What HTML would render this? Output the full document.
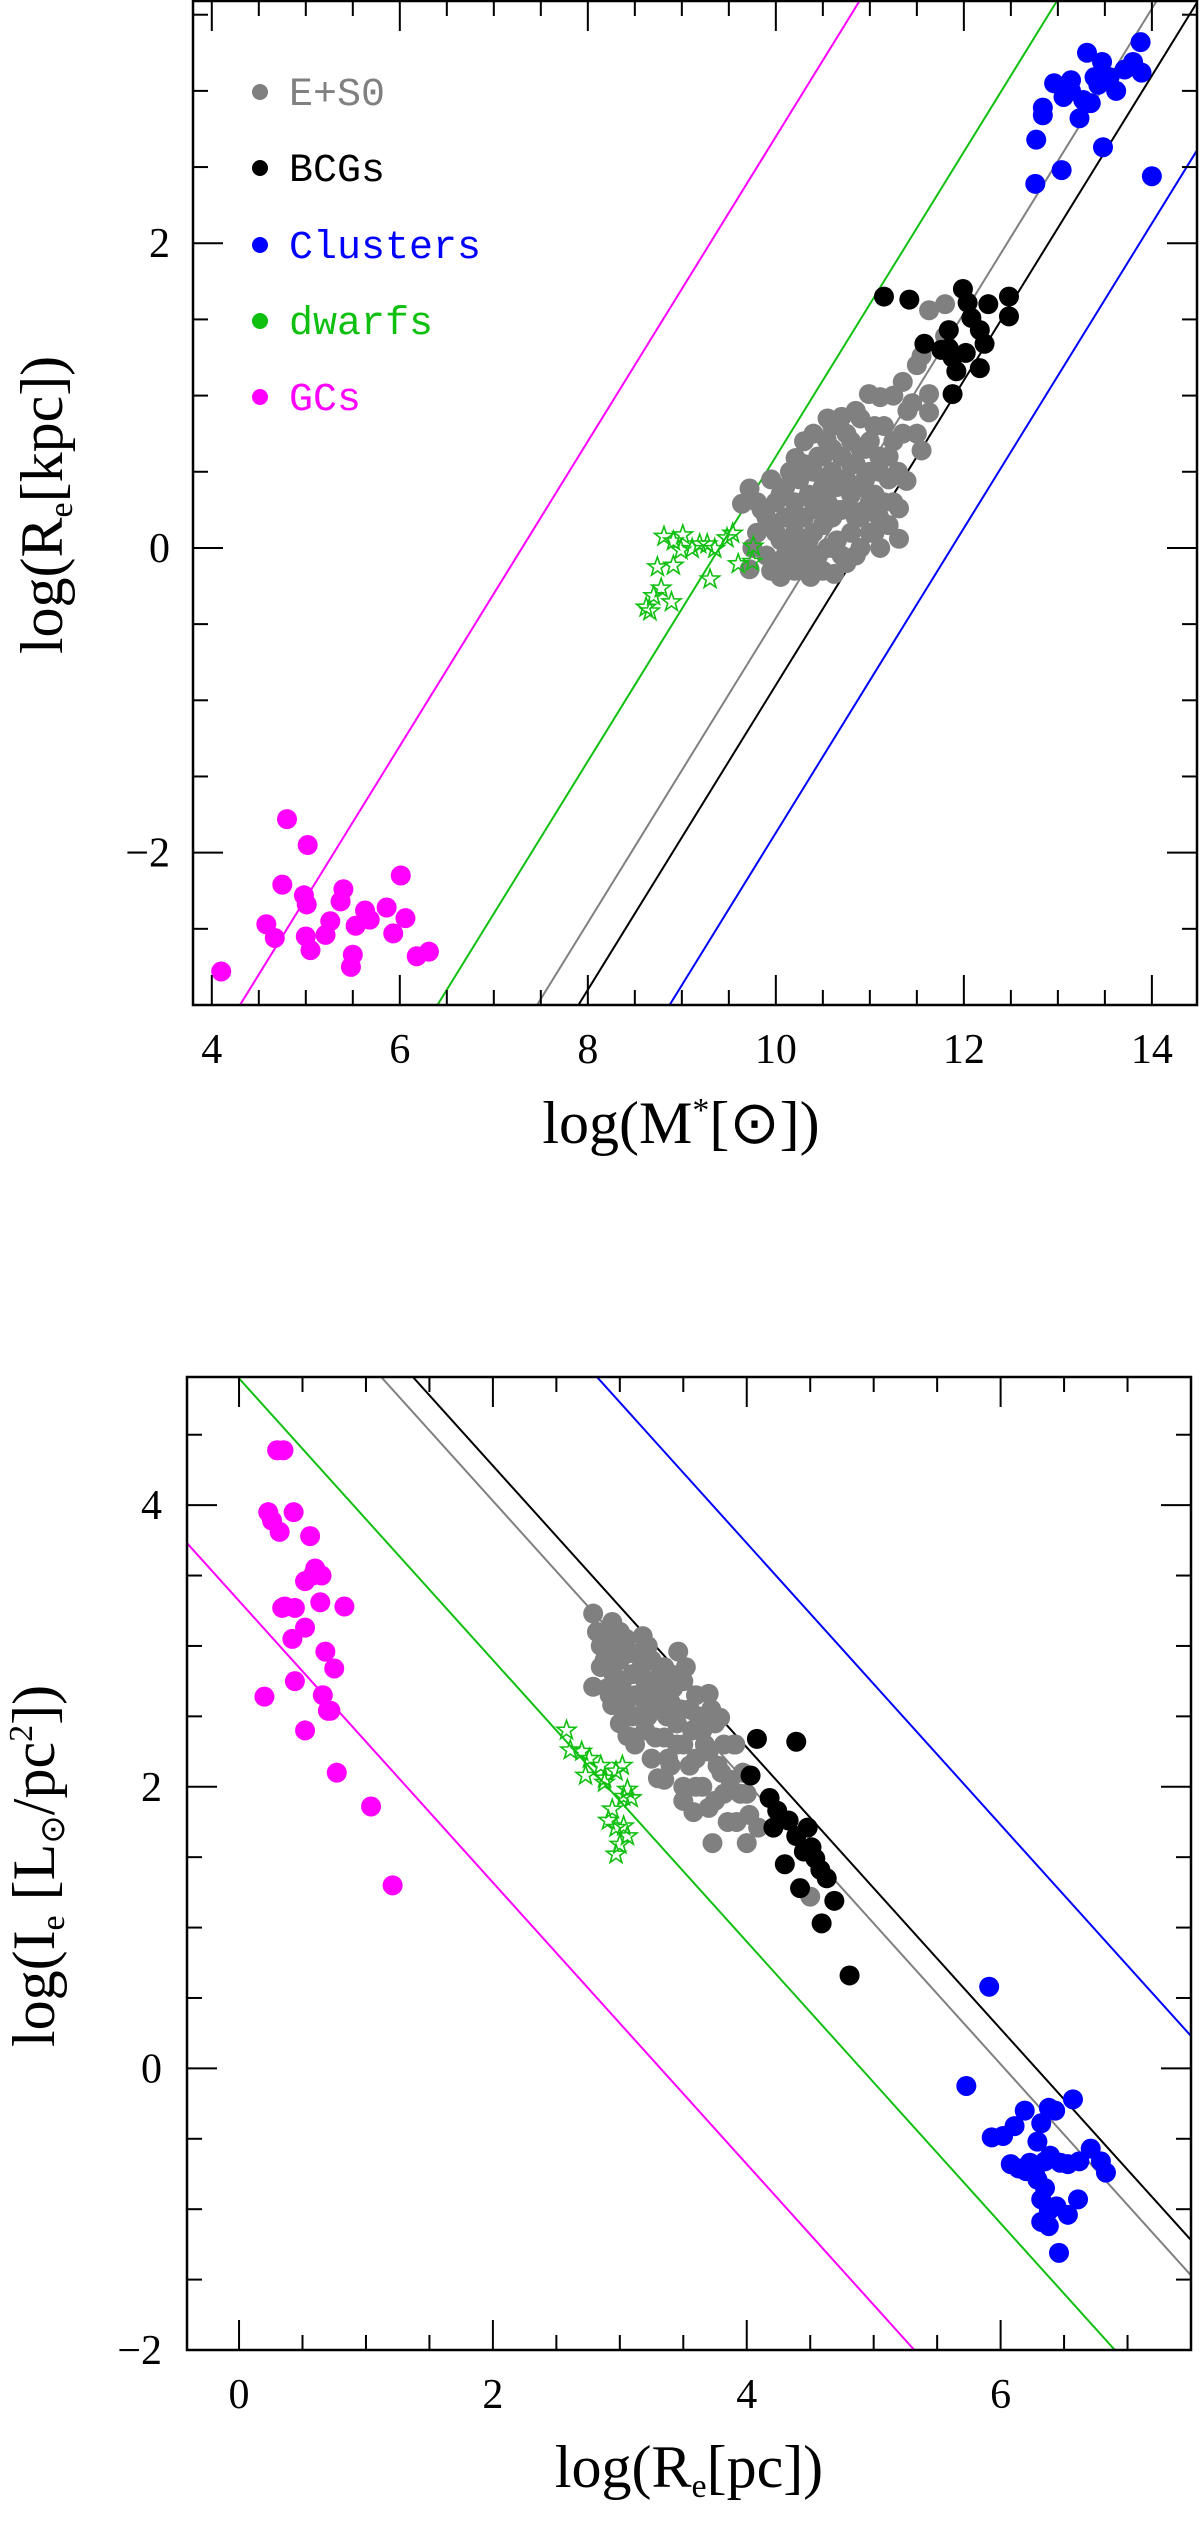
<!DOCTYPE html>
<html><head><meta charset="utf-8"><style>
html,body{margin:0;padding:0;background:#fff;width:1200px;height:2538px;overflow:hidden;}
svg{display:block;font-family:"Liberation Serif",serif;}
</style></head><body>
<svg id="fig" width="1200" height="2538" viewBox="0 0 1200 2538" xmlns="http://www.w3.org/2000/svg">
  <g font-family="Liberation Mono, monospace" font-size="40">
    <g><circle cx="260" cy="92" r="8" fill="#808080"/><text x="289" y="105" fill="#808080">E+S0</text></g>
    <g><circle cx="260" cy="168" r="8" fill="#000"/><text x="289" y="181" fill="#000">BCGs</text></g>
    <g><circle cx="260" cy="245" r="8" fill="#0000ff"/><text x="289" y="258" fill="#0000ff">Clusters</text></g>
    <g><circle cx="260" cy="321" r="8" fill="#10c010"/><text x="289" y="334" fill="#10c010">dwarfs</text></g>
    <g><circle cx="260" cy="397" r="8" fill="#ff00ff"/><text x="289" y="410" fill="#ff00ff">GCs</text></g>
  </g>
  <text x="681" y="1143" text-anchor="middle" font-size="60">log(M<tspan font-size="34" dy="-22">*</tspan><tspan dy="22">[&#x2299;])</tspan></text>
  <text transform="translate(62,505) rotate(-90)" text-anchor="middle" font-size="60">log(R<tspan font-size="34" dy="10">e</tspan><tspan dy="-10">[kpc])</tspan></text>
  <text x="689" y="2487" text-anchor="middle" font-size="60">log(R<tspan font-size="34" dy="10">e</tspan><tspan dy="-10">[pc])</tspan></text>
  <text transform="translate(54,1866) rotate(-90)" text-anchor="middle" font-size="60">log(I<tspan font-size="34" dy="10">e</tspan><tspan dy="-10"> [L</tspan><tspan font-size="34" dy="10">&#x2299;</tspan><tspan dy="-10">/pc</tspan><tspan font-size="34" dy="-22">2</tspan><tspan dy="22">])</tspan></text>
</svg>
<script>
// ---------- Top panel data: log(M*) vs log(Re[kpc]) ----------
const topGray = [[9.72,0.39],[9.64,0.29],[9.72,-0.14],[9.8,0.1],[9.85,0.25],[9.9,-0.05],[9.95,0.15],[10.0,0.3],[10.05,-0.19],[10.05,0.05],[10.1,0.2],[10.1,0.4],[10.15,-0.1],[10.2,0.1],[10.2,0.3],[10.21,0.59],[10.25,0.45],[10.3,-0.15],[10.3,0.0],[10.3,0.2],[10.35,0.35],[10.37,-0.19],[10.4,0.1],[10.4,0.5],[10.45,0.25],[10.45,-0.05],[10.5,0.4],[10.5,0.15],[10.5,0.6],[10.54,0.71],[10.55,0.0],[10.55,0.3],[10.6,0.5],[10.6,0.2],[10.62,-0.17],[10.65,0.4],[10.65,0.05],[10.7,0.86],[10.7,0.6],[10.7,0.25],[10.75,0.45],[10.75,-0.1],[10.8,0.1],[10.8,0.35],[10.8,0.7],[10.85,0.55],[10.85,0.2],[10.9,0.4],[10.9,0.0],[10.95,0.65],[10.95,0.25],[10.99,1.01],[11.0,0.5],[11.0,0.1],[11.05,0.35],[11.05,0.8],[11.11,0.0],[11.11,0.99],[11.1,0.6],[11.15,0.3],[11.2,0.45],[11.2,0.15],[11.25,0.7],[11.31,0.06],[11.31,0.26],[11.35,1.09],[11.39,0.44],[11.4,0.9],[11.55,0.64],[11.63,0.89],[11.63,1.01],[11.55,1.26],[11.63,1.56],[11.80,1.60],[11.80,1.39],[11.5,1.2],[10.0,-0.1],[10.3,0.7],[10.6,0.8],[10.9,0.85],
[9.75,0.0],[9.8,0.3],[9.9,0.2],[9.95,-0.15],[10.0,0.1],[10.05,0.35],[10.1,-0.05],[10.15,0.5],[10.2,-0.15],[10.25,0.2],[10.3,0.55],[10.35,0.05],[10.4,0.3],[10.4,-0.1],[10.45,0.6],[10.5,-0.15],[10.55,0.45],[10.55,0.85],[10.6,0.0],[10.6,0.65],[10.65,0.25],[10.7,-0.05],[10.7,0.45],[10.75,0.75],[10.8,0.25],[10.8,0.55],[10.85,-0.05],[10.85,0.9],[10.9,0.65],[10.9,0.2],[10.95,0.45],[11.0,0.7],[11.0,0.3],[11.05,0.1],[11.1,0.5],[11.1,0.2],[11.15,0.8],[11.2,0.6],[11.25,0.3],[11.3,0.5],[11.35,0.75],[11.45,0.95],[11.5,0.75],[11.25,1.0],[10.4,0.75],[10.15,0.0],[9.95,0.45],[10.25,-0.05]];
const topBCG = [[11.15,1.65],[11.42,1.63],[11.58,1.34],[11.76,1.30],[11.84,1.43],[11.88,1.25],[11.92,1.16],[11.88,1.01],[11.99,1.70],[12.04,1.61],[12.08,1.51],[12.17,1.43],[12.17,1.18],[12.22,1.34],[12.26,1.60],[12.48,1.65],[12.48,1.52],[11.84,1.31],[12.02,1.28]];
const topClusters = [[12.76,2.39],[12.77,2.68],[12.84,2.84],[12.84,2.89],[13.04,2.48],[13.06,2.96],[13.14,3.07],[13.23,2.82],[13.31,3.25],[13.39,3.09],[13.48,2.63],[13.47,3.19],[13.55,3.09],[13.62,3.00],[13.71,3.14],[13.80,3.19],[13.88,3.32],[13.89,3.12],[14.0,2.44],[13.14,3.00],[13.27,2.94],[13.35,2.92],[13.43,3.04],[12.96,3.05]];
const topDwarfs = [[8.81,0.075],[8.91,0.045],[9.01,0.085],[9.11,-0.005],[9.19,0.025],[9.27,0.025],[9.35,-0.005],[9.48,0.065],[9.54,0.095],[9.60,-0.105],[9.76,0.01],[9.75,-0.09],[8.91,-0.115],[8.74,-0.125],[8.78,-0.265],[8.70,-0.315],[8.62,-0.39],[8.66,-0.415],[8.89,-0.355],[9.30,-0.205],[8.99,-0.015]];
const topGCs = [[4.10,-2.78],[4.80,-1.78],[5.02,-1.95],[4.75,-2.21],[4.58,-2.47],[4.67,-2.56],[4.98,-2.28],[5.01,-2.34],[5.00,-2.55],[5.05,-2.64],[5.21,-2.54],[5.26,-2.45],[5.37,-2.32],[5.40,-2.24],[5.53,-2.48],[5.63,-2.38],[5.68,-2.44],[5.86,-2.36],[5.93,-2.53],[6.01,-2.15],[6.06,-2.43],[5.50,-2.67],[5.48,-2.75],[6.18,-2.68],[6.31,-2.65]];
const topLineIntercepts = [-7.3,-9.4,-10.46,-10.9,-11.87];
const topXTicks = [4,6,8,10,12,14];
const topYTicks = [-2,0,2];

// ---------- Bottom panel data: log(Re[pc]) vs log(Ie) ----------
const botGray = [[2.79,3.23],[2.79,2.71],[2.85,3.0],[2.85,2.85],[2.9,3.1],[2.9,2.7],[2.94,2.58],[2.94,3.17],[3.0,2.9],[3.0,2.65],[3.05,3.05],[3.06,2.36],[3.1,2.8],[3.1,2.5],[3.15,2.95],[3.15,2.65],[3.18,3.07],[3.2,2.4],[3.2,2.75],[3.25,2.2],[3.25,2.9],[3.3,2.06],[3.3,2.55],[3.3,2.7],[3.35,2.85],[3.35,2.35],[3.4,2.6],[3.4,2.15],[3.45,2.45],[3.46,2.96],[3.5,2.75],[3.5,2.3],[3.5,2.0],[3.55,2.55],[3.58,1.82],[3.6,2.2],[3.6,2.65],[3.65,2.4],[3.65,2.0],[3.7,2.66],[3.7,2.25],[3.73,1.60],[3.75,1.9],[3.75,2.45],[3.79,2.49],[3.8,2.1],[3.85,1.75],[3.9,2.3],[3.91,2.3],[3.95,1.95],[4.0,1.6],[4.0,1.95],[4.09,1.71],[3.2,2.6],[3.0,2.45],[2.95,2.8],[3.4,2.8],[4.5,1.22],
[2.82,3.1],[2.88,2.9],[2.92,2.65],[2.97,3.0],[3.02,2.75],[3.05,2.55],[3.08,2.95],[3.12,2.65],[3.12,2.3],[3.17,2.85],[3.22,2.5],[3.22,3.0],[3.27,2.65],[3.28,2.35],[3.32,2.8],[3.37,2.5],[3.38,2.2],[3.42,2.7],[3.45,2.3],[3.48,2.55],[3.52,2.85],[3.55,2.15],[3.57,2.4],[3.6,2.0],[3.62,2.5],[3.67,2.3],[3.7,1.85],[3.72,2.55],[3.77,2.15],[3.82,2.3],[3.82,1.95],[3.87,2.05],[3.92,1.75],[3.97,2.1],[4.02,1.8],[3.1,2.35],[3.35,2.05],[3.5,1.9],[3.25,2.75],[3.0,3.1]];
const botBCG = [[4.08,2.34],[4.39,2.32],[4.03,2.08],[4.18,1.92],[4.24,1.83],[4.33,1.76],[4.39,1.65],[4.30,1.45],[4.42,1.28],[4.48,1.71],[4.51,1.57],[4.58,1.41],[4.63,1.35],[4.69,1.19],[4.59,1.03],[4.81,0.66],[4.21,1.71],[4.45,1.54],[4.54,1.49]];
const botClusters = [[5.91,0.58],[5.73,-0.125],[5.93,-0.49],[6.02,-0.48],[6.11,-0.41],[6.19,-0.30],[6.29,-0.52],[6.32,-0.39],[6.38,-0.28],[6.43,-0.30],[6.57,-0.22],[6.08,-0.68],[6.14,-0.71],[6.23,-0.67],[6.27,-0.74],[6.35,-0.66],[6.39,-0.62],[6.47,-0.67],[6.53,-0.68],[6.62,-0.66],[6.71,-0.57],[6.79,-0.66],[6.83,-0.74],[6.32,-0.93],[6.38,-1.01],[6.44,-0.98],[6.53,-1.04],[6.32,-1.09],[6.38,-1.12],[6.46,-1.31],[6.61,-0.93],[6.29,-0.79],[6.20,-0.73],[6.35,-0.85]];
const botDwarfs = [[2.58,2.40],[2.61,2.26],[2.70,2.25],[2.76,2.20],[2.73,2.08],[2.85,2.15],[2.88,2.06],[2.97,2.11],[3.02,2.15],[3.06,1.98],[3.03,1.93],[3.09,1.92],[2.94,1.84],[2.91,1.76],[2.97,1.71],[3.03,1.72],[3.06,1.65],[3.00,1.59],[2.97,1.52],[2.88,2.03]];
const botGCs = [[0.20,2.64],[0.23,3.95],[0.26,3.89],[0.32,3.81],[0.30,4.39],[0.35,4.39],[0.34,3.27],[0.36,3.28],[0.43,3.95],[0.44,3.27],[0.42,3.05],[0.44,2.75],[0.52,2.40],[0.52,3.13],[0.52,3.46],[0.56,3.78],[0.58,3.50],[0.60,3.55],[0.64,3.31],[0.65,3.50],[0.66,2.65],[0.68,2.96],[0.70,2.54],[0.72,2.54],[0.75,2.84],[0.77,2.10],[0.83,3.28],[1.04,1.86],[1.21,1.30]];
const botLineIntercepts = [3.32,4.9,6.03,6.28,7.73];
const botXTicks = [0,2,4,6];
const botYTicks = [-2,0,2,4];

const COLORS = ['#ff00ff','#10c010','#808080','#000000','#0000ff'];
const NS = 'http://www.w3.org/2000/svg';
const svg = document.getElementById('fig');
function mk(tag, attrs, parent){const e=document.createElementNS(NS,tag);for(const k in attrs)e.setAttribute(k,attrs[k]);(parent||svg).appendChild(e);return e;}

function panel(cfg){
  const g = mk('g',{});
  svg.insertBefore(g, svg.firstChild);
  
  
  const {L,R,T,B,x0,x1,y0,y1} = cfg;
  const sx = v => L + (v-x0)/(x1-x0)*(R-L);
  const sy = v => B - (v-y0)/(y1-y0)*(B-T);
  const cid = cfg.name+'-clip';
  const defs = mk('defs',{},g);
  const cp = mk('clipPath',{id:cid},defs);
  mk('rect',{x:L,y:T,width:R-L,height:B-T},cp);
  const inner = mk('g',{'clip-path':'url(#'+cid+')'},g);
  cfg.intercepts.forEach((b,i)=>{
    const xa=x0-1, xb=x1+1;
    const l = mk('line',{x1:sx(xa),y1:sy(cfg.slope*xa+b),x2:sx(xb),y2:sy(cfg.slope*xb+b),stroke:COLORS[i],'stroke-width':2},inner);
    
    
  });
  const dots = (arr,color,nm)=>arr.forEach(p=>{
    const c = mk('circle',{cx:sx(p[0]),cy:sy(p[1]),r:10,fill:color},inner);
    
    
  });
  dots(cfg.gray,COLORS[2],'e-s0-point');
  dots(cfg.bcg,COLORS[3],'bcg-point');
  dots(cfg.clusters,COLORS[4],'cluster-point');
  dots(cfg.gcs,COLORS[0],'gc-point');
  cfg.dwarfs.forEach(p=>{
    const cx=sx(p[0]), cy=sy(p[1]); let pts=[];
    for(let k=0;k<10;k++){const a=-Math.PI/2+k*Math.PI/5;const r=k%2?4:10;pts.push((cx+r*Math.cos(a)).toFixed(1)+','+(cy+r*Math.sin(a)).toFixed(1));}
    const s = mk('polygon',{points:pts.join(' '),fill:'none',stroke:COLORS[1],'stroke-width':1.6},inner);
    
    
  });
  const fr = mk('rect',{x:L,y:T,width:R-L,height:B-T,fill:'none',stroke:'#000','stroke-width':2.5},g);
  
  
  const tk = mk('g',{stroke:'#000','stroke-width':2},g);
  for(let v=Math.ceil(x0*2)/2; v<=x1+1e-9; v+=0.5){
    const major = Math.abs(v-Math.round(v/2)*2)<1e-6; const len = major?30:15; const x=sx(v);
    mk('line',{x1:x,y1:B,x2:x,y2:B-len},tk); mk('line',{x1:x,y1:T,x2:x,y2:T+len},tk);
  }
  for(let v=Math.ceil(y0*2)/2; v<=y1+1e-9; v+=0.5){
    const major = Math.abs(v-Math.round(v/2)*2)<1e-6; const len = major?30:15; const y=sy(v);
    mk('line',{x1:L,y1:y,x2:L+len,y2:y},tk); mk('line',{x1:R,y1:y,x2:R-len,y2:y},tk);
  }
  cfg.xticks.forEach(v=>{
    const t=mk('text',{x:sx(v),y:cfg.xLabY,'text-anchor':'middle','font-size':42},g);
    t.textContent = v<0?'\u2212'+(-v):String(v);
    
    
  });
  cfg.yticks.forEach(v=>{
    const t=mk('text',{x:cfg.yLabX,y:sy(v)+14,'text-anchor':'end','font-size':42},g);
    t.textContent = v<0?'\u2212'+(-v):String(v);
    
    
  });
}

panel({name:'size-mass-panel',L:193,R:1197,T:1,B:1005,x0:3.8,x1:14.48,y0:-3,y1:3.59,slope:1,
  intercepts:topLineIntercepts,gray:topGray,bcg:topBCG,clusters:topClusters,dwarfs:topDwarfs,gcs:topGCs,
  xticks:topXTicks,yticks:topYTicks,xLabY:1063,yLabX:170});
panel({name:'surface-brightness-panel',L:187,R:1191,T:1377,B:2350,x0:-0.41,x1:7.5,y0:-2,y1:4.91,slope:-1,
  intercepts:botLineIntercepts,gray:botGray,bcg:botBCG,clusters:botClusters,dwarfs:botDwarfs,gcs:botGCs,
  xticks:botXTicks,yticks:botYTicks,xLabY:2408,yLabX:162});
</script>
</body></html>
